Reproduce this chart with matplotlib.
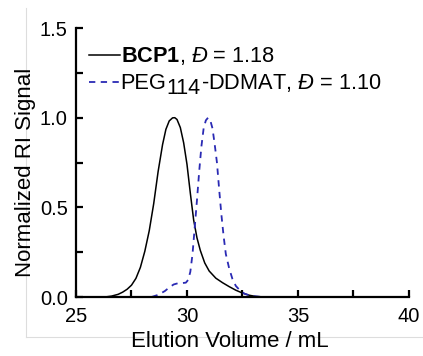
import matplotlib
matplotlib.use("Agg")
import matplotlib.pyplot as plt
from matplotlib.lines import Line2D
from matplotlib.ticker import MultipleLocator

plt.rcParams["font.family"] = ["Liberation Sans", "DejaVu Sans"]
plt.rcParams["mathtext.fontset"] = "custom"
plt.rcParams["mathtext.rm"] = "Liberation Sans"
plt.rcParams["mathtext.it"] = "Liberation Sans:italic"
plt.rcParams["mathtext.bf"] = "Liberation Sans:bold"

# GPC traces (elution volume in mL, normalized RI signal)
bcp1_volume = [26.3, 26.6, 26.9, 27.1, 27.3, 27.5, 27.7, 27.9, 28.1, 28.3,
               28.5, 28.7, 28.9, 29.05, 29.2, 29.35, 29.45, 29.55, 29.7, 29.85,
               30.0, 30.15, 30.3, 30.45, 30.6, 30.8, 31.0, 31.3, 31.6, 31.9,
               32.2, 32.5, 32.8, 33.1, 33.5]
bcp1_signal = [0.0, 0.005, 0.015, 0.027, 0.043, 0.066, 0.104, 0.165, 0.255, 0.37,
               0.52, 0.70, 0.85, 0.935, 0.982, 0.999, 1.0, 0.99, 0.945, 0.86,
               0.74, 0.58, 0.43, 0.33, 0.26, 0.19, 0.145, 0.105, 0.08, 0.058,
               0.038, 0.022, 0.01, 0.003, 0.0]

peg_volume = [28.4, 28.7, 29.0, 29.2, 29.4, 29.6, 29.8, 29.95, 30.05, 30.15,
              30.25, 30.35, 30.45, 30.55, 30.65, 30.75, 30.85, 30.95, 31.05, 31.15,
              31.25, 31.35, 31.45, 31.55, 31.65, 31.75, 31.9, 32.05, 32.2, 32.4,
              32.6, 32.9, 33.3, 33.6]
peg_signal = [0.0, 0.012, 0.033, 0.053, 0.07, 0.077, 0.078, 0.08, 0.095, 0.14,
              0.24, 0.39, 0.54, 0.70, 0.84, 0.94, 0.985, 1.0, 0.985, 0.94,
              0.85, 0.75, 0.60, 0.46, 0.34, 0.24, 0.16, 0.10, 0.062, 0.035,
              0.018, 0.006, 0.001, 0.0]

bcp1_label = r"$\mathbf{BCP1}$, $\mathit{Đ}$ = 1.18"
peg_name, peg_dp, peg_rest = "PEG", "114", r"-DDMAT, $\mathit{Đ}$ = 1.10"

fig = plt.figure(figsize=(4.23, 3.56), dpi=100)
ax = fig.add_axes([0.1797, 0.1657, 0.787, 0.7556])

ax.plot(bcp1_volume, bcp1_signal, color="black", lw=1.1, label=bcp1_label)
ax.plot(peg_volume, peg_signal, color="#2a2ab4", lw=1.3, dashes=(3.5, 3),
        label=peg_name)

ax.set_xlim(25, 40)
ax.set_ylim(0, 1.5)
ax.xaxis.set_major_locator(MultipleLocator(5))
ax.xaxis.set_minor_locator(MultipleLocator(2.5))
ax.yaxis.set_major_locator(MultipleLocator(0.5))
ax.yaxis.set_minor_locator(MultipleLocator(0.25))
for side in ("top", "right"):
    ax.spines[side].set_visible(False)
for side in ("left", "bottom"):
    ax.spines[side].set_linewidth(1.6)
ax.tick_params(which="both", direction="in", length=5, width=1.6,
               labelsize=14.5, pad=6)
ax.tick_params(axis="x", pad=7)
ax.yaxis.set_major_formatter(plt.FormatStrFormatter("%.1f"))

ax.set_xlabel("Elution Volume / mL", fontsize=16, labelpad=4, x=0.4625)
ax.set_ylabel("Normalized RI Signal", fontsize=16, labelpad=3, y=0.465)

leg = ax.legend(loc="upper left", bbox_to_anchor=(0.0, 0.985), frameon=False,
                fontsize=15.7, handlelength=1.4, handletextpad=0.05,
                labelspacing=0.28, borderaxespad=0.2)

# lowered degree of polymerisation and the rest of the second entry;
# drawn above the legend so its text is already placed
peg_text = leg.get_texts()[1]
sub = ax.annotate(peg_dp, xy=(1, 0), xycoords=peg_text, xytext=(0.2, -3.3),
                  textcoords="offset points", fontsize=15.5,
                  ha="left", va="bottom", zorder=10)
ax.annotate(peg_rest, xy=(1, 0), xycoords=(sub, peg_text), xytext=(0.2, 0),
            textcoords="offset points", fontsize=15.7, ha="left", va="bottom",
            zorder=10)

# light frame around the panel
fig.add_artist(Line2D([26 / 423, 26 / 423], [1 - 8 / 356, 1 - 337 / 356],
                      transform=fig.transFigure, color="#dddddd", lw=0.8,
                      zorder=0))
fig.add_artist(Line2D([26 / 423, 1.0], [1 - 337 / 356, 1 - 337 / 356],
                      transform=fig.transFigure, color="#dddddd", lw=0.8,
                      zorder=0))

fig.savefig("out.png", dpi=100)
